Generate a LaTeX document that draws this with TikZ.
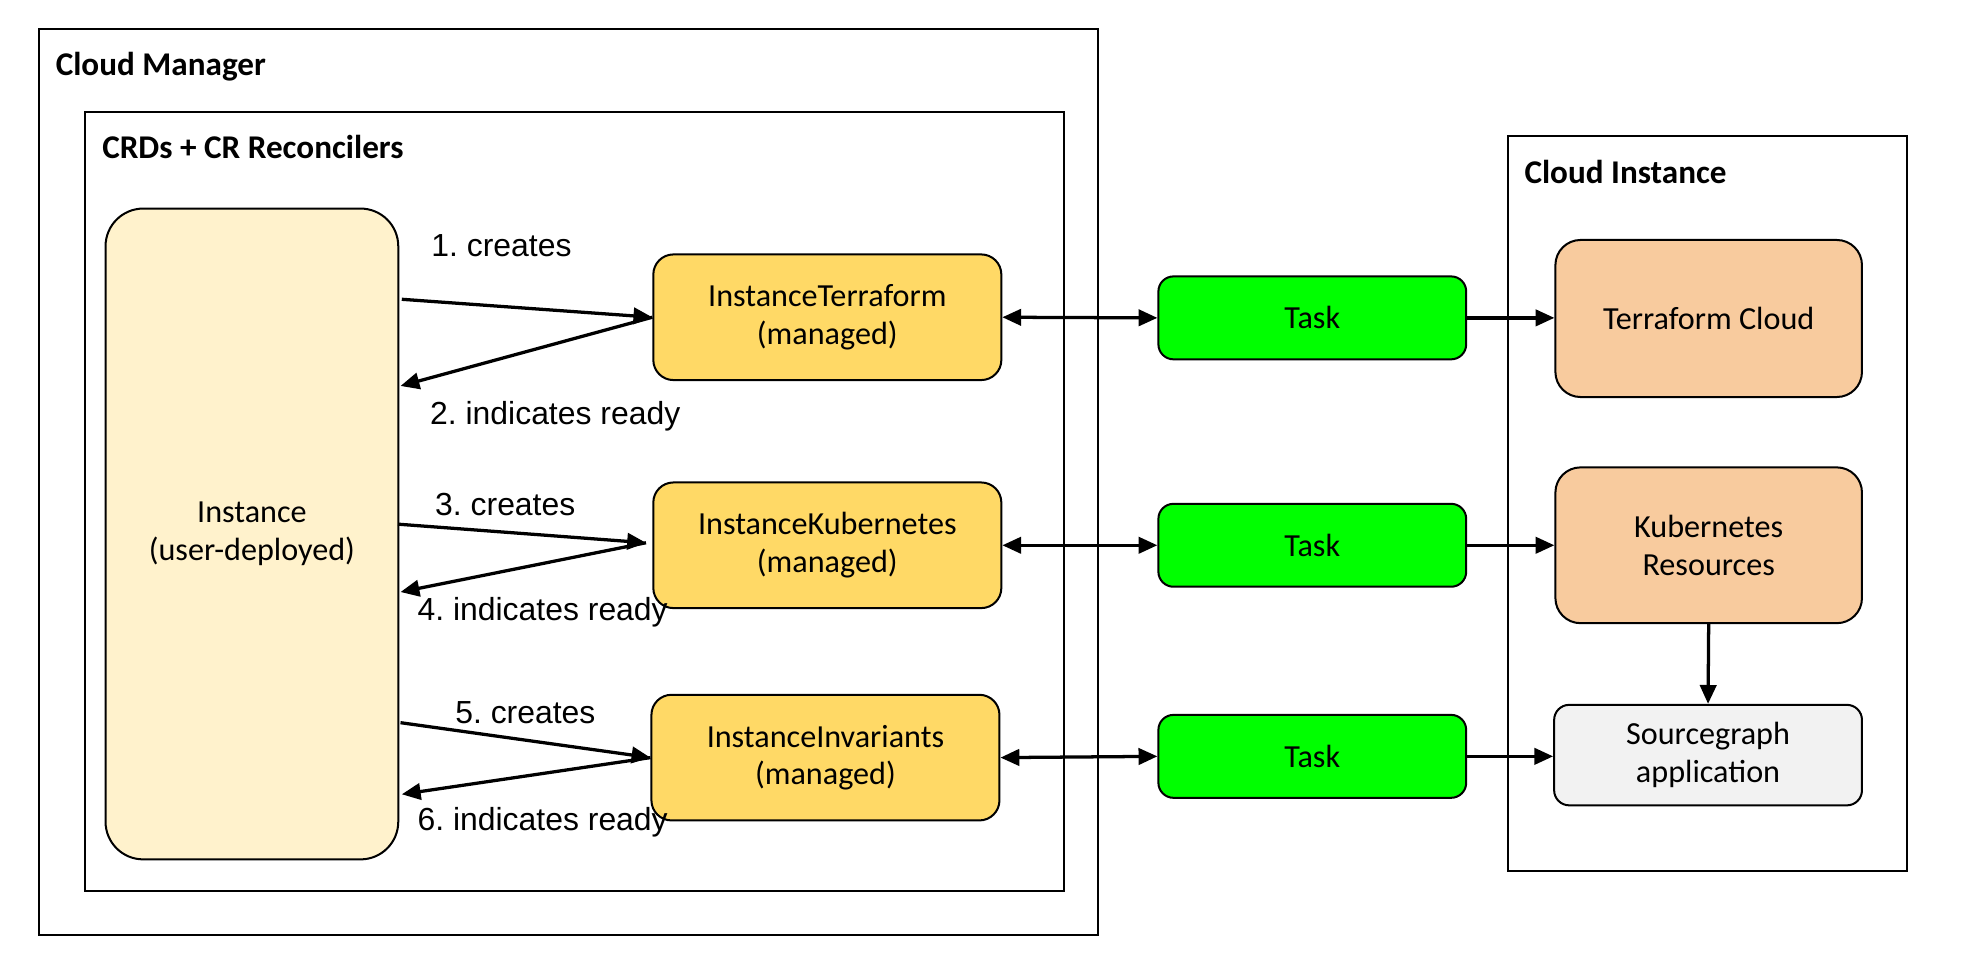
\documentclass[tikz,border=0pt]{standalone}
\usepackage{fontspec}
\setmainfont{Carlito}
\newfontfamily\arialf{Liberation Sans}
\usetikzlibrary{arrows.meta,calc}
\definecolor{instfill}{RGB}{255,242,204}
\definecolor{crfill}{RGB}{255,217,102}
\definecolor{taskfill}{RGB}{0,255,0}
\definecolor{cloudfill}{RGB}{248,203,158}
\definecolor{sgfill}{RGB}{242,242,242}
\frenchspacing
\begin{document}
\begin{tikzpicture}[x=0.5pt,y=-0.5pt,
  container/.style={draw=black,line width=0.8pt},
  title/.style={anchor=base west,inner sep=0pt,font=\fontsize{13.2}{16}\selectfont\bfseries},
  box/.style={draw=black,line width=0.8pt,align=center,inner sep=0pt,font=\fontsize{12.8}{15}\selectfont},
  crbox/.style={box,fill=crfill,rounded corners=8pt,minimum width=138.5pt,minimum height=50pt},
  taskbox/.style={box,fill=taskfill,rounded corners=6pt,minimum width=122.5pt,minimum height=33pt},
  lbl/.style={anchor=base west,inner sep=0pt,font=\arialf\fontsize{12.7}{15}\selectfont},
  arr/.style={line width=1.3pt,-{Triangle[length=7.5pt,width=6.5pt]}},
  darr/.style={line width=1.3pt,{Triangle[length=7.5pt,width=6.5pt]}-{Triangle[length=7.5pt,width=6.5pt]}}
]
\useasboundingbox (0,0) rectangle (1568,761);

% containers
\draw[container] (31,23) rectangle (874,744);
\node[title] (cmt) at (44,60) {Cloud Manager};
\draw[container] (68,89) rectangle (847,709);
\node[title] (crdt) at (81,126) {CRDs + CR Reconcilers};
\draw[container] (1200,108) rectangle (1518,693);
\node[title] (cit) at (1213,146) {Cloud Instance};

% nodes
\node[box,fill=instfill,rounded corners=15pt,minimum width=116.5pt,minimum height=259pt] (inst) at (200.5,425) {Instance\\(user-deployed)};
\node[crbox] (itf) at (658.5,252.5) {InstanceTerraform\\(managed)};
\node[crbox] (ik8s) at (658.5,434) {InstanceKubernetes\\(managed)};
\node[crbox] (iinv) at (657,603) {InstanceInvariants\\(managed)};
\node[taskbox] (t1) at (1044.5,253) {Task};
\node[taskbox] (t2) at (1044.5,434) {Task};
\node[taskbox] (t3) at (1044.5,602) {Task};
\node[box,fill=cloudfill,rounded corners=10pt,minimum width=122pt,minimum height=62.5pt] (tfc) at (1360,253.5) {Terraform Cloud};
\node[box,fill=cloudfill,rounded corners=10pt,minimum width=122pt,minimum height=62pt] (k8r) at (1360,434) {Kubernetes\\Resources};
\node[box,fill=sgfill,rounded corners=6pt,minimum width=122.5pt,minimum height=40pt] (sg) at (1359.5,601) {Sourcegraph\\application};

% instance <-> CRs
\draw[arr] ($(inst.north east)+(2,73)$) -- (itf.west);
\draw[arr] (itf.west) -- ($(inst.north east)+(1,142)$);
\draw[arr] ($(inst.north east)+(-1,252)$) -- ($(ik8s.west)+(-5,-2)$);
\draw[arr] ($(ik8s.west)+(-5,-2)$) -- ($(inst.north east)+(1,306)$);
\draw[arr] ($(inst.north east)+(1,410)$) -- (iinv.west);
\draw[arr] (iinv.west) -- ($(inst.north east)+(2,467)$);

\node[lbl] (l1) at (343,204) {1. creates};
\node[lbl] (l2) at (342,338) {2. indicates ready};
\node[lbl] (l3) at (346,410) {3. creates};
\node[lbl] (l4) at (332,494) {4. indicates ready};
\node[lbl] (l5) at (362,576) {5. creates};
\node[lbl] (l6) at (332,661) {6. indicates ready};

% CRs <-> tasks
\draw[darr] (itf.east) -- (t1.west);
\draw[darr] (ik8s.east) -- (t2.west);
\draw[darr] (iinv.east) -- (t3.west);

% tasks -> cloud
\draw[arr] (t1.east) -- (t1.east -| tfc.west);
\draw[arr] (t2.east) -- (t2.east -| k8r.west);
\draw[arr] (t3.east) -- (t3.east -| sg.west);
\draw[arr] (k8r.south) -- (sg.north);
\end{tikzpicture}
\end{document}
